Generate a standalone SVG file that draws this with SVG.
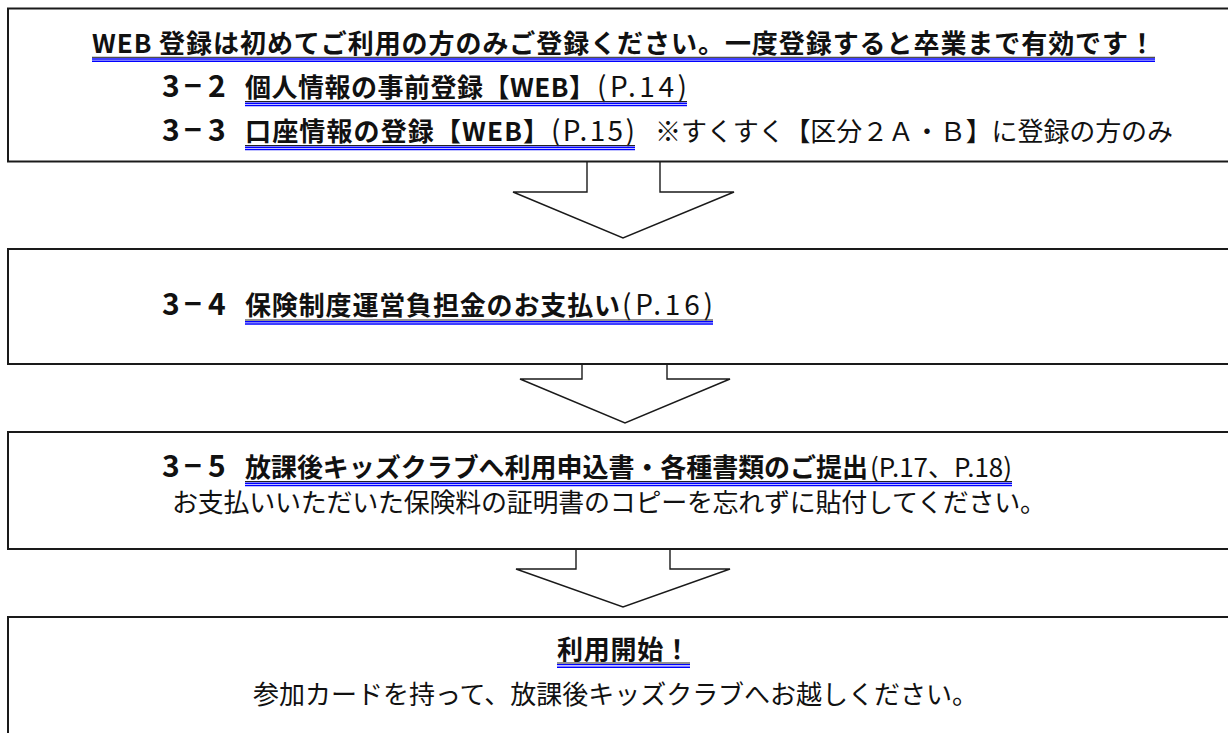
<svg xmlns="http://www.w3.org/2000/svg" width="1228" height="733" viewBox="0 0 1228 733">
<style>
.bg{fill:#fff}
.box{fill:#fff;stroke:#1a1a1a;stroke-width:2}
.arrow{fill:#fff;stroke:#1a1a1a;stroke-width:1.4;stroke-linejoin:miter}
.t{font-family:"Noto Sans CJK JP","Noto Sans",sans-serif;fill:#111;font-size:26px}
.num{font-size:30px}
.pg{font-size:28px}
.b{font-weight:700}
.n{font-weight:400}
.uk{stroke:#222;stroke-width:1;fill:none}
.ub{stroke:#0000ff;stroke-width:1.4;fill:none}
</style>
<rect class="bg" x="0" y="0" width="1228" height="733"/>

<g id="connectors">
  <path class="arrow" d="M587,161.5 V192 H513 L623,238 L734,192 H660 V161.5"/>
  <path class="arrow" d="M582,364 V379 H520 L625,423 L730,379 H667 V364"/>
  <path class="arrow" d="M576,549 V569 H516 L623,607 L730,569 H670 V549"/>
</g>

<g id="node-web-registration">
  <rect class="box" x="8" y="8.5" width="1240" height="153"/>
  <text class="t b" x="92" y="53" textLength="1063" lengthAdjust="spacing">WEB 登録は初めてご利用の方のみご登録ください。一度登録すると卒業まで有効です！</text>
  <path class="uk" d="M92,57.3 H1155"/>
  <path class="ub" d="M92,59 H1155 M92,61.3 H1155"/>

  <text class="t b num" x="162 184 208" y="97">3−2</text>
  <text class="t b" x="245" y="97" textLength="350" lengthAdjust="spacing">個人情報の事前登録【WEB】</text>
  <text class="t n pg" x="597" y="97" textLength="90" lengthAdjust="spacing">(P.14)</text>
  <path class="uk" d="M245,101.5 H687"/>
  <path class="ub" d="M245,103.2 H687 M245,105.5 H687"/>

  <text class="t b num" x="162 184 208" y="141">3−3</text>
  <text class="t b" x="245" y="141" textLength="304" lengthAdjust="spacing">口座情報の登録【WEB】</text>
  <text class="t n pg" x="551" y="141" textLength="84" lengthAdjust="spacing">(P.15)</text>
  <path class="uk" d="M245,145.5 H635"/>
  <path class="ub" d="M245,147.2 H635 M245,149.5 H635"/>
  <text class="t n" x="655" y="141" textLength="518" lengthAdjust="spacing">※すくすく【区分２Ａ・Ｂ】に登録の方のみ</text>
</g>

<g id="node-insurance-payment">
  <rect class="box" x="8" y="249" width="1240" height="115"/>
  <text class="t b num" x="162 184 208" y="315">3−4</text>
  <text class="t b" x="245" y="315" textLength="375" lengthAdjust="spacing">保険制度運営負担金のお支払い</text>
  <text class="t n pg" x="622" y="315" textLength="91" lengthAdjust="spacing">(P.16)</text>
  <path class="uk" d="M245,320 H713"/>
  <path class="ub" d="M245,321.7 H713 M245,324 H713"/>
</g>

<g id="node-application-submission">
  <rect class="box" x="8" y="432" width="1240" height="117"/>
  <text class="t b num" x="162 184 208" y="477">3−5</text>
  <text class="t b" x="245" y="477" textLength="623" lengthAdjust="spacing">放課後キッズクラブへ利用申込書・各種書類のご提出</text>
  <text class="t n" x="870" y="477" textLength="142" lengthAdjust="spacing">(P.17、P.18)</text>
  <path class="uk" d="M245,481.5 H1012"/>
  <path class="ub" d="M245,483.2 H1012 M245,485.5 H1012"/>
  <text class="t n" x="172" y="512" textLength="874" lengthAdjust="spacing">お支払いいただいた保険料の証明書のコピーを忘れずに貼付してください。</text>
</g>

<g id="node-start-use">
  <rect class="box" x="8" y="617" width="1240" height="140"/>
  <text class="t b" x="557" y="659" textLength="133" lengthAdjust="spacing">利用開始！</text>
  <path class="uk" d="M557,663 H690"/>
  <path class="ub" d="M557,664.6 H690 M557,667.2 H690"/>
  <text class="t n" x="253" y="704" textLength="725" lengthAdjust="spacing">参加カードを持って、放課後キッズクラブへお越しください。</text>
</g>
</svg>
